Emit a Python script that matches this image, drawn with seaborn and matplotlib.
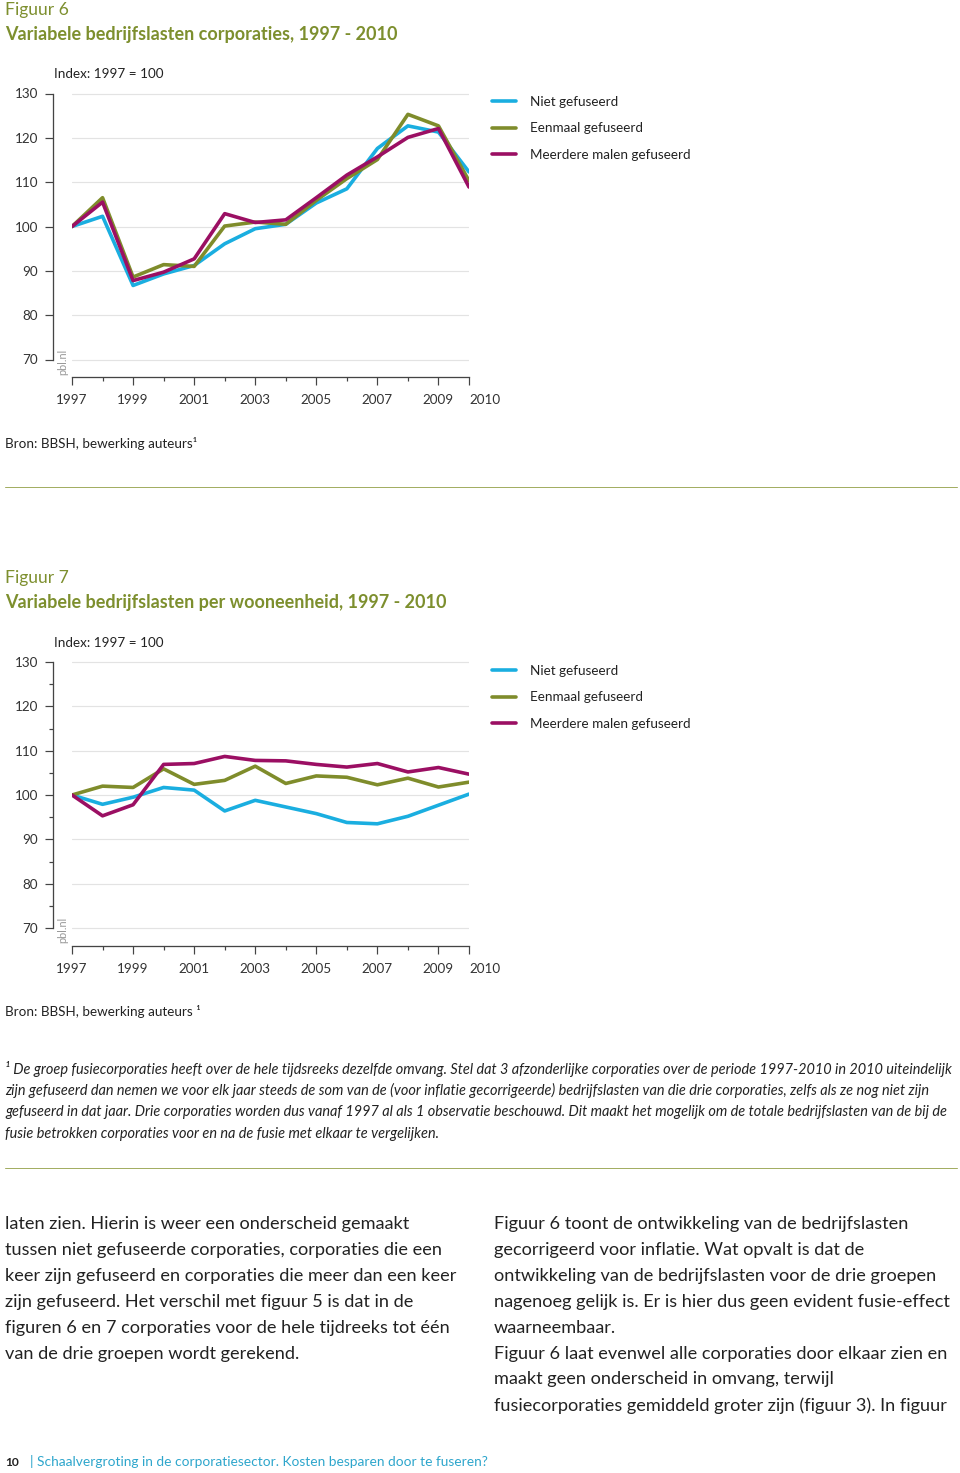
import numpy as np
import pandas as pd
import matplotlib
matplotlib.use("Agg")
import matplotlib.pyplot as plt
import seaborn as sns
from matplotlib.lines import Line2D
from matplotlib import font_manager

# ---------------- data ----------------
years = list(range(1997, 2011))
groups = ["Niet gefuseerd", "Eenmaal gefuseerd", "Meerdere malen gefuseerd"]

fig6_niet = [100, 102.3, 86.7, 89.3, 91.2, 96.1, 99.5, 100.5, 105.3, 108.5, 117.6, 122.7, 121.3, 112.3]
fig6_eenmaal = [100, 106.5, 88.6, 91.4, 91.0, 100.1, 101.0, 100.5, 105.9, 110.8, 115.1, 125.3, 122.7, 110.3]
fig6_meerdere = [100, 105.5, 87.8, 89.7, 92.7, 102.9, 100.9, 101.5, 106.5, 111.6, 115.7, 120.1, 122.1, 108.9]

fig7_niet = [100, 97.9, 99.5, 101.7, 101.1, 96.4, 98.8, 97.3, 95.8, 93.8, 93.5, 95.2, 97.7, 100.2]
fig7_eenmaal = [100, 102.0, 101.7, 105.9, 102.4, 103.3, 106.5, 102.6, 104.3, 104.0, 102.3, 103.8, 101.8, 102.9]
fig7_meerdere = [100, 95.3, 97.8, 106.9, 107.1, 108.7, 107.8, 107.7, 106.9, 106.3, 107.1, 105.2, 106.2, 104.7]

y_ticks = [70, 80, 90, 100, 110, 120, 130]
x_major = [1997, 1999, 2001, 2003, 2005, 2007, 2009, 2010]
x_minor = [1998, 2000, 2002, 2004, 2006, 2008]

colors = ["#1aaee0", "#7f8c2b", "#9b0f63"]
olive = "#7d8f2e"

names = {f.name for f in font_manager.fontManager.ttflist}
base_font = "Lato" if "Lato" in names else "DejaVu Sans"
narrow_font = "Liberation Sans Narrow" if "Liberation Sans Narrow" in names else base_font

sns.set_style("white")
plt.rcParams["font.family"] = [base_font, "DejaVu Sans"]

W, H = 960, 1473
fig = plt.figure(figsize=(W / 72, H / 72), dpi=72)


def ftext(x, y, s, **kw):
    kw.setdefault("va", "center")
    kw.setdefault("ha", "left")
    return fig.text(x / W, 1 - y / H, s, **kw)


def hrule(y):
    fig.add_artist(Line2D([5 / W, 957 / W], [1 - y / H, 1 - y / H],
                          transform=fig.transFigure, color="#a3ae63", lw=1))


def make_chart(top_px, series, minor_y, fig_no, title, bron, legend_y):
    # top_px: pixel y of the value 130
    y130 = top_px
    y70 = top_px + 266
    ppu = (y70 - y130) / 60.0
    ylo, yhi = 66.0, 130.6
    ax_top = y70 - (yhi - 70) * ppu
    ax_bot = y70 + (70 - ylo) * ppu
    x0, x1 = 72, 469
    ax = fig.add_axes([x0 / W, 1 - ax_bot / H, (x1 - x0) / W, (ax_bot - ax_top) / H])

    df = pd.DataFrame({
        "jaar": years * 3,
        "index": series[0] + series[1] + series[2],
        "groep": [groups[0]] * 14 + [groups[1]] * 14 + [groups[2]] * 14,
    })
    sns.lineplot(data=df, x="jaar", y="index", hue="groep", hue_order=groups,
                 palette=colors, ax=ax, linewidth=3.6, legend=False)
    ax.set_xlim(1997, 2010)
    ax.set_ylim(ylo, yhi)
    for v in y_ticks:
        ax.axhline(v, color="#e3e3e3", lw=1.2, zorder=0)
    ax.set_xlabel("")
    ax.set_ylabel("")
    for s in ["top", "right"]:
        ax.spines[s].set_visible(False)
    ax.spines["left"].set_position(("outward", 19))
    ax.spines["left"].set_bounds(70, 130)
    ax.spines["bottom"].set_bounds(1997, 2010)
    for s in ["left", "bottom"]:
        ax.spines[s].set_color("#444444")
        ax.spines[s].set_linewidth(1.3)
    ax.set_yticks(y_ticks)
    ax.set_yticklabels([str(v) for v in y_ticks])
    if minor_y:
        ax.set_yticks([75, 85, 95, 105, 115, 125], minor=True)
    ax.set_xticks(x_major)
    ax.set_xticklabels([str(v) for v in x_major])
    ax.set_xticks(x_minor, minor=True)
    ax.tick_params(axis="both", which="both", bottom=True, left=True, top=False, right=False)
    ax.tick_params(axis="both", which="major", direction="out", length=8, width=1.2,
                   color="#444444", labelsize=13.5, labelcolor="#333333")
    ax.tick_params(axis="both", which="minor", direction="out", length=4, width=1.2,
                   color="#444444")
    ax.tick_params(axis="x", which="major", pad=9)
    ax.tick_params(axis="y", which="major", pad=7)
    lbls = ax.get_xticklabels()
    lbls[-1].set_horizontalalignment("left")
    ax.grid(False)

    # pbl.nl
    ftext(63, y70 + 2, "pbl.nl", rotation=90, fontsize=11, color="#999999",
          ha="center", va="center")
    # index label
    ftext(54, y130 - 19, "Index: 1997 = 100", fontsize=13.5, color="#222222")
    # headings
    ftext(5, y130 - 84, fig_no, fontsize=17.5, color=olive)
    ftext(5, y130 - 59, title, fontsize=18, color=olive, fontweight="bold")
    ftext(5, y130 + 350, bron, fontsize=13.5, color="#222222")

    handles = [Line2D([], [], color=c, lw=3.6) for c in colors]
    fig.legend(handles, groups, loc="upper left",
               bbox_to_anchor=(492 / W, 1 - (legend_y - 5) / H),
               frameon=False, fontsize=13.5, handlelength=1.75, handletextpad=1.1,
               labelspacing=1.07, borderaxespad=0, borderpad=0,
               labelcolor="#222222")
    return ax


make_chart(93.5, [fig6_niet, fig6_eenmaal, fig6_meerdere], False, "Figuur 6",
           "Variabele bedrijfslasten corporaties, 1997 - 2010",
           "Bron: BBSH, bewerking auteurs\u00b9", 101)
hrule(487)
make_chart(662, [fig7_niet, fig7_eenmaal, fig7_meerdere], True, "Figuur 7",
           "Variabele bedrijfslasten per wooneenheid, 1997 - 2010",
           "Bron: BBSH, bewerking auteurs \u00b9", 670)

# footnote
foot = [
    "\u00b9 De groep fusiecorporaties heeft over de hele tijdsreeks dezelfde omvang. Stel dat 3 afzonderlijke corporaties over de periode 1997-2010 in 2010 uiteindelijk",
    "zijn gefuseerd dan nemen we voor elk jaar steeds de som van de (voor inflatie gecorrigeerde) bedrijfslasten van die drie corporaties, zelfs als ze nog niet zijn",
    "gefuseerd in dat jaar. Drie corporaties worden dus vanaf 1997 al als 1 observatie beschouwd. Dit maakt het mogelijk om de totale bedrijfslasten van de bij de",
    "fusie betrokken corporaties voor en na de fusie met elkaar te vergelijken.",
]
for i, line in enumerate(foot):
    ftext(5, 1069 + i * 21.7, line, fontsize=14.5, style="italic", color="#222222",
          family=[narrow_font, "DejaVu Sans"])
hrule(1168)

left_col = [
    "laten zien. Hierin is weer een onderscheid gemaakt",
    "tussen niet gefuseerde corporaties, corporaties die een",
    "keer zijn gefuseerd en corporaties die meer dan een keer",
    "zijn gefuseerd. Het verschil met figuur 5 is dat in de",
    "figuren 6 en 7 corporaties voor de hele tijdreeks tot één",
    "van de drie groepen wordt gerekend.",
]
right_col = [
    "Figuur 6 toont de ontwikkeling van de bedrijfslasten",
    "gecorrigeerd voor inflatie. Wat opvalt is dat de",
    "ontwikkeling van de bedrijfslasten voor de drie groepen",
    "nagenoeg gelijk is. Er is hier dus geen evident fusie-effect",
    "waarneembaar.",
    "Figuur 6 laat evenwel alle corporaties door elkaar zien en",
    "maakt geen onderscheid in omvang, terwijl",
    "fusiecorporaties gemiddeld groter zijn (figuur 3). In figuur",
]
for i, line in enumerate(left_col):
    ftext(5, 1224 + i * 25.9, line, fontsize=18.1, color="#222222")
for i, line in enumerate(right_col):
    ftext(494, 1224 + i * 25.9, line, fontsize=18.1, color="#222222")

ftext(5, 1462, "10", fontsize=12, fontweight="bold", color="#222222")
ftext(30, 1462, "| Schaalvergroting in de corporatiesector. Kosten besparen door te fuseren?",
      fontsize=13.8, color="#2ea6cc")

fig.savefig("out.png", dpi=72)
